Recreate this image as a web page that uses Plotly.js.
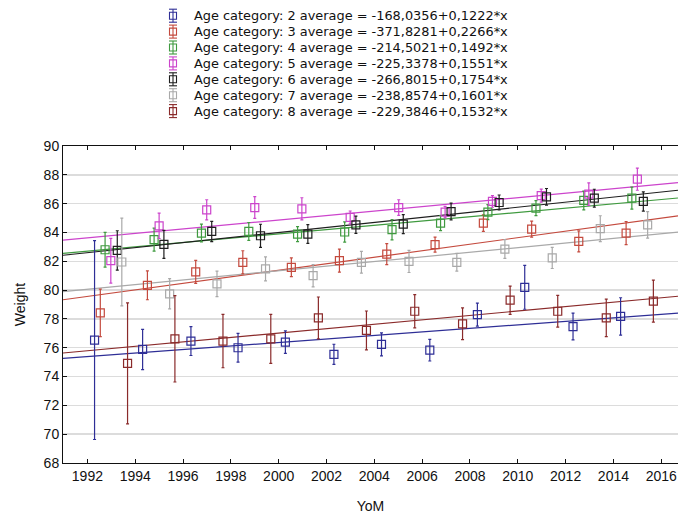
<!DOCTYPE html>
<html><head><meta charset="utf-8">
<script src="https://cdn.plot.ly/plotly-3.0.1.min.js"></script>
<style>html,body{margin:0;padding:0;background:#fff}</style>
</head><body><div id="chart" style="width:678px;height:515px"></div>
<script>
const categories = ['2', '3', '4', '5', '6', '7', '8'];
const intercepts = [-168.0356, -371.8281, -214.5021, -225.3378, -266.8015, -238.8574, -229.3846];
const slopes = [0.1222, 0.2266, 0.1492, 0.1551, 0.1754, 0.1601, 0.1532];

const x2 = [1992.3, 1994.31, 1996.33, 1998.3, 2000.28, 2002.31, 2004.3, 2006.32, 2008.31, 2010.29, 2012.31, 2014.3];
const y2 = [76.53, 75.88, 76.46, 76.0, 76.39, 75.54, 76.23, 75.83, 78.3, 80.19, 77.47, 78.17];
const e2 = [6.9, 1.4, 1.0, 1.0, 0.78, 0.7, 0.8, 0.75, 0.8, 1.52, 0.93, 1.3];

const x3 = [1992.54, 1994.51, 1996.53, 1998.5, 2000.53, 2002.54, 2004.52, 2006.54, 2008.56, 2010.58, 2012.55, 2014.53];
const y3 = [78.42, 80.33, 81.26, 81.93, 81.58, 82.04, 82.5, 83.15, 84.65, 84.23, 83.38, 83.96];
const e3 = [1.65, 1.0, 0.8, 0.8, 0.65, 0.8, 0.73, 0.52, 0.58, 0.55, 0.73, 0.8];

const x4 = [1992.74, 1994.79, 1996.77, 1998.75, 2000.79, 2002.76, 2004.74, 2006.77, 2008.75, 2010.76, 2012.76, 2014.77];
const y4 = [82.8, 83.5, 83.96, 84.07, 83.89, 84.03, 84.19, 84.65, 85.41, 85.69, 86.22, 86.38];
const e4 = [1.2, 0.8, 0.62, 0.62, 0.52, 0.7, 0.7, 0.52, 0.52, 0.52, 0.65, 0.76];

const x5 = [1992.98, 1995.0, 1996.99, 1999.0, 2000.97, 2002.99, 2005.02, 2006.96, 2008.94, 2010.98, 2012.97, 2015.0];
const y5 = [82.04, 84.46, 85.57, 85.73, 85.64, 85.04, 85.73, 85.41, 86.15, 86.56, 86.66, 87.7];
const e5 = [1.55, 0.88, 0.7, 0.75, 0.77, 0.45, 0.54, 0.4, 0.4, 0.45, 0.78, 0.77];

const x6 = [1993.25, 1995.2, 1997.2, 1999.24, 2001.22, 2003.23, 2005.21, 2007.21, 2009.22, 2011.2, 2013.2, 2015.25];
const y6 = [82.75, 83.17, 84.07, 83.77, 83.89, 84.53, 84.58, 85.45, 86.08, 86.47, 86.38, 86.15];
const e6 = [1.37, 0.97, 0.7, 0.8, 0.65, 0.6, 0.66, 0.58, 0.52, 0.58, 0.62, 0.67];

const x7 = [1993.44, 1995.44, 1997.42, 1999.45, 2001.44, 2003.46, 2005.45, 2007.45, 2009.46, 2011.44, 2013.45, 2015.43];
const y7 = [81.95, 79.74, 80.43, 81.47, 81.0, 81.93, 81.99, 81.93, 82.85, 82.23, 84.26, 84.53];
const e7 = [3.05, 1.05, 0.88, 0.83, 0.77, 0.75, 0.77, 0.62, 0.65, 0.73, 0.9, 0.92];

const x8 = [1993.68, 1995.66, 1997.67, 1999.67, 2001.66, 2003.67, 2005.69, 2007.69, 2009.68, 2011.67, 2013.7, 2015.67];
const y8 = [74.91, 76.62, 76.46, 76.62, 78.07, 77.2, 78.53, 77.66, 79.3, 78.53, 78.07, 79.23];
const e8 = [4.2, 3.0, 1.85, 1.7, 1.45, 1.35, 1.15, 1.1, 0.98, 1.1, 1.3, 1.46];

const xs = [x2, x3, x4, x5, x6, x7, x8];
const ys = [y2, y3, y4, y5, y6, y7, y8];
const es = [e2, e3, e4, e5, e6, e7, e8];
const colors = ['#2e2e96', '#c44a3e', '#3f9a3f', '#cc44cc', '#1e1e1e', '#a9a9a9', '#8a2a2a'];
const xRange = [1990.98, 2016.7];

function fmt(v) { return Math.abs(v).toFixed(4).replace('.', ','); }
function label(i) {
  return 'Age category: ' + categories[i] + ' average = ' + (intercepts[i] < 0 ? '-' : '') + fmt(intercepts[i]) +
         (slopes[i] < 0 ? '-' : '+') + fmt(slopes[i]) + '*x';
}

const traces = [];
categories.forEach((c, i) => {
  traces.push({
    x: xRange,
    y: xRange.map(v => intercepts[i] + slopes[i] * v),
    mode: 'lines', type: 'scatter', showlegend: false, hoverinfo: 'skip',
    line: {color: colors[i], width: 1.2}
  });
});
categories.forEach((c, i) => {
  traces.push({
    x: xs[i], y: ys[i], type: 'scatter', mode: 'markers', showlegend: false,
    name: label(i),
    marker: {symbol: 'square-open', size: 8, color: colors[i], line: {width: 1.2, color: colors[i]}},
    error_y: {type: 'data', array: es[i], visible: true, color: colors[i], thickness: 1.2, width: 1.5}
  });
});

// compact legend (entries 16 px apart, as in the reference)
const plotTop = 146, plotH = 317;
const legAnnotations = [], legShapes = [];
categories.forEach((c, i) => {
  const ypx = 15.7 + 15.9 * i;
  const yp = 1 + (plotTop - ypx) / plotH;
  legAnnotations.push({
    xref: 'paper', yref: 'paper', x: (192 - 63) / 615, y: yp, xanchor: 'left', yanchor: 'middle',
    text: label(i), showarrow: false,
    font: {family: 'DejaVu Sans, sans-serif', size: 12.9, color: '#111'}
  });
  const xa = (173 - 63) / 615;
  const base = {xref: 'paper', yref: 'paper', xsizemode: 'pixel', ysizemode: 'pixel', xanchor: xa, yanchor: yp,
                line: {color: colors[i], width: 1.1}};
  legShapes.push(Object.assign({}, base, {type: 'rect', x0: -3.5, x1: 3.5, y0: -3.5, y1: 3.5}));
  legShapes.push(Object.assign({}, base, {type: 'line', x0: 0, x1: 0, y0: -6.5, y1: 6.5}));
  legShapes.push(Object.assign({}, base, {type: 'line', x0: -4, x1: 4, y0: 6.5, y1: 6.5}));
  legShapes.push(Object.assign({}, base, {type: 'line', x0: -4, x1: 4, y0: -6.5, y1: -6.5}));
});

const font = {family: 'Liberation Sans, Arial, sans-serif', color: '#111'};
const layout = {
  width: 678, height: 515,
  margin: {l: 63, r: 0, t: 146, b: 52},
  paper_bgcolor: '#fff', plot_bgcolor: '#fff',
  font: Object.assign({size: 14}, font),
  showlegend: false,
  annotations: legAnnotations,
  shapes: legShapes,
  xaxis: {range: xRange, dtick: 2, tick0: 1992, ticks: 'inside', ticklen: 4, tickcolor: '#111',
          showline: true, linecolor: '#111', linewidth: 1, mirror: 'ticks', showgrid: false, zeroline: false,
          ticklabeloverflow: 'allow',
          tickfont: Object.assign({size: 14}, font),
          title: {text: 'YoM', font: Object.assign({size: 14}, font), standoff: 18}},
  yaxis: {range: [68, 90], dtick: 2, tick0: 68, ticks: 'inside', ticklen: 4, tickcolor: '#111',
          showline: true, linecolor: '#111', linewidth: 1, mirror: false, showgrid: true,
          gridcolor: '#dcdcdc', gridwidth: 1.5, zeroline: false,
          tickfont: Object.assign({size: 14}, font),
          title: {text: 'Weight', font: Object.assign({size: 14}, font), standoff: 14}}
};
Plotly.newPlot('chart', traces, layout, {displayModeBar: false, staticPlot: true});
</script></body></html>
